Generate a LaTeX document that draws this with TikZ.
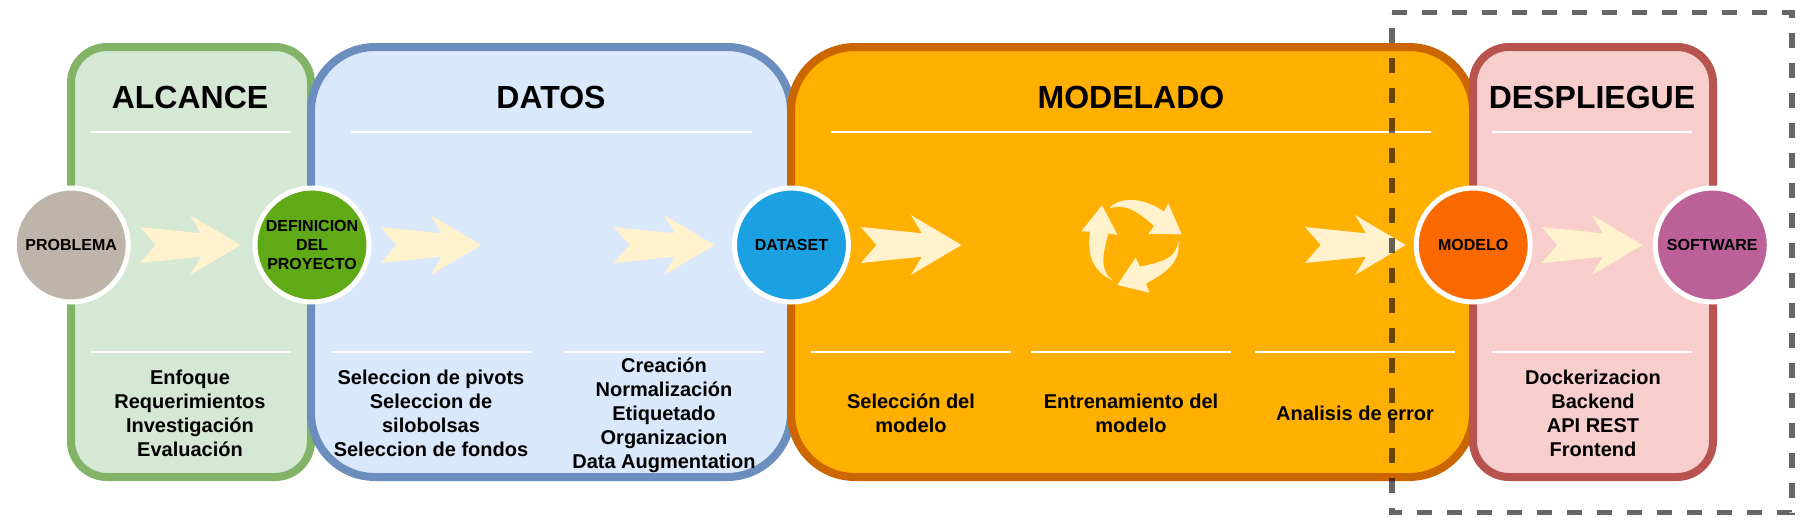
\documentclass[tikz,border=0pt]{standalone}
\usepackage{fontspec}
\setmainfont{Liberation Sans}
\definecolor{gfill}{HTML}{D5E8D4}\definecolor{gline}{HTML}{82B366}
\definecolor{bfill}{HTML}{DAE8FC}\definecolor{bline}{HTML}{6C8EBF}
\definecolor{ofill}{HTML}{FFB000}\definecolor{oline}{HTML}{CC6600}
\definecolor{rfill}{HTML}{F8CECC}\definecolor{rline}{HTML}{B85450}
\definecolor{cream}{HTML}{FFF2CC}
\definecolor{ctaupe}{HTML}{BFB4A9}\definecolor{cgreen}{HTML}{60A917}
\definecolor{cblue}{HTML}{1BA1E2}\definecolor{corange}{HTML}{FA6800}
\definecolor{cmauve}{HTML}{BC6098}
\tikzset{
  panel/.style={draw, line width=8pt},
  narrowpanel/.style={panel, rounded corners=36pt},
  widepanel/.style={panel, rounded corners=64pt},
  circ/.style={circle, draw=white, line width=5pt, minimum size=114pt, inner sep=0pt, align=center,
    font=\fontsize{16}{19}\selectfont\bfseries},
  title/.style={font=\fontsize{32}{38}\selectfont\bfseries, anchor=center},
  body/.style={font=\fontsize{20}{24}\selectfont\bfseries, align=center, anchor=center},
  rule/.style={draw=white, line width=2pt},
  flow/.style={fill=cream, draw=none},
}
\begin{document}
\begin{tikzpicture}[x=1pt,y=-1pt]
\useasboundingbox (0,0) rectangle (1805,525);
% panels
\path[narrowpanel, draw=gline, fill=gfill] (71,47) rectangle (311,477);
\path[widepanel, draw=bline, fill=bfill] (311,47) rectangle (791,477);
\path[widepanel, draw=oline, fill=ofill] (791,47) rectangle (1473,477);
\path[narrowpanel, draw=rline, fill=rfill] (1473,47) rectangle (1713,477);
% titles
\node[title] (t1) at (190,97) {ALCANCE};
\node[title] (t2) at (551,97) {DATOS};
\node[title] (t3) at (1131,97) {MODELADO};
\node[title] (t4) at (1592,97) {DESPLIEGUE};
% rules
\foreach \a/\b in {91/291,351/752,831/1431,1492/1692}
  \draw[rule] (\a,132) -- (\b,132);
\foreach \a/\b in {91/291,331/531,564/764,811/1011,1031/1231,1255/1455,1492/1692}
  \draw[rule] (\a,352) -- (\b,352);
% texts
\node[body] (b1) at (190,413) {Enfoque\\Requerimientos\\Investigación\\Evaluación};
\node[body] (b2) at (431,413) {Seleccion de pivots\\Seleccion de\\silobolsas\\Seleccion de fondos};
\node[body] (b3) at (664,415) {Creación\\Normalización\\Etiquetado\\Organizacion\\Data Augmentation};
\node[body] (b4) at (911,413) {Selección del\\modelo};
\node[body] (b5) at (1131,413) {Entrenamiento del\\modelo};
\node[body] (b6) at (1355,413) {Analisis de error};
\node[body] (b7) at (1593,413) {Dockerizacion\\Backend\\API REST\\Frontend};
% flow arrows
\foreach \t in {240.7,481.3,714.5,961.5,1405.7,1642.5}
  \fill[flow] (\t,245) -- (\t-50.7,215) -- (\t-39.7,233.3) -- (\t-100.7,227) -- (\t-85,245)
     -- (\t-100.7,263) -- (\t-39.7,256.7) -- (\t-50.7,275) -- cycle;
% cycle icon
\begin{scope}[shift={(1040,150)}, x=0.3333pt, y=-0.3333pt]
\fill[flow] (208,175) .. controls (235,140) and (310,140) .. (372,185) -- (385,160) -- (425,253) -- (325,252) -- (342,228)
   .. controls (290,180) and (250,160) .. (208,175) -- cycle;
\fill[flow] (415,272) .. controls (425,330) and (380,370) .. (318,400) -- (328,428) -- (232,405) -- (287,323) -- (300,350)
   .. controls (370,335) and (410,325) .. (415,272) -- cycle;
\fill[flow] (220,392) .. controls (160,365) and (140,320) .. (150,245) -- (124,244) -- (186,166) -- (233,255) -- (205,250)
   .. controls (190,310) and (175,360) .. (220,392) -- cycle;
\end{scope}
% circles
\node[circ, fill=ctaupe] (c1) at (71.2,245) {PROBLEMA};
\node[circ, fill=cgreen] (c2) at (312,245) {\raisebox{-1pt}{DEFINICION}\\\raisebox{-1pt}{DEL}\\\raisebox{-1pt}{PROYECTO}};
\node[circ, fill=cblue] (c3) at (791.5,245) {DATASET};
\node[circ, fill=corange] (c4) at (1473.2,245) {MODELO};
\node[circ, fill=cmauve] (c5) at (1712.3,245) {SOFTWARE};
% dashed frame
\draw[draw=black, draw opacity=0.6, line width=5.5pt, dash pattern=on 15pt off 15pt] (1392,12.5) -- (1792,12.5) -- (1792,512.5) -- (1392,512.5) -- cycle;
\end{tikzpicture}
\end{document}
